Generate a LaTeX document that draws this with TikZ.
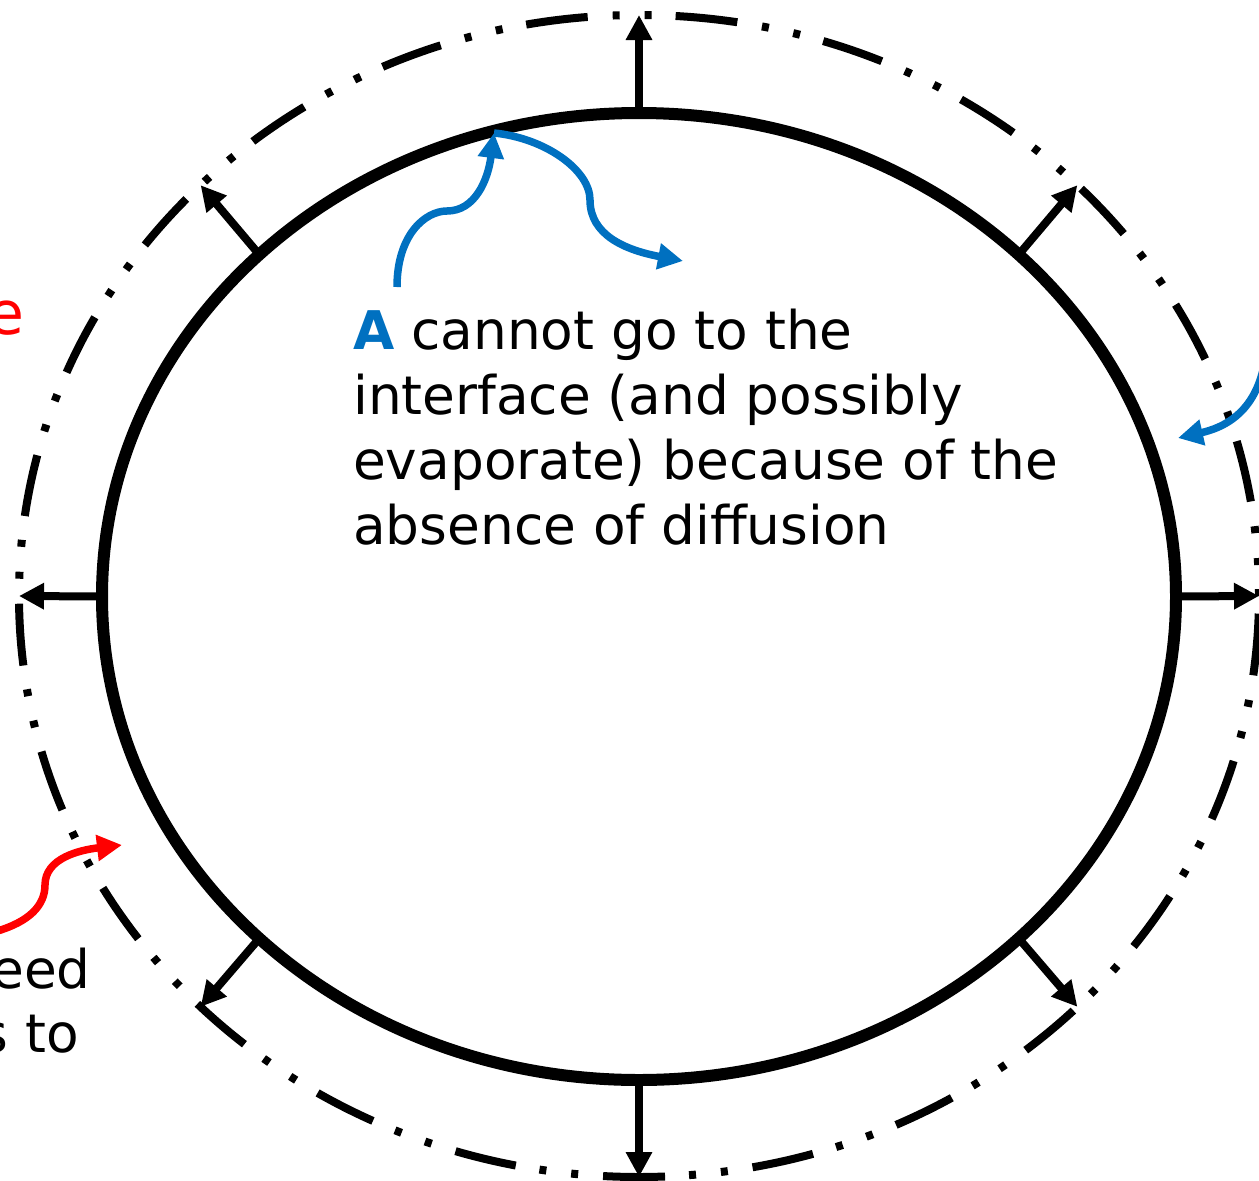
\documentclass[tikz,border=0pt]{standalone}
\usepackage{fontspec}
\setmainfont{DejaVu Sans}
\usetikzlibrary{shapes.geometric,arrows.meta}
\definecolor{dropblue}{HTML}{0070C0}
\definecolor{flagred}{HTML}{FF0000}
\begin{document}
\begin{tikzpicture}[x=1pt,y=-1pt]
  \tikzstyle{spoke}=[line width=8pt,-{Triangle[length=25pt,width=25pt]}]
  \tikzstyle{wander}=[line width=7.5pt,-{Triangle[length=25pt,width=25pt]}]
  \tikzstyle{words}=[inner sep=0pt,font=\fontsize{53.3}{65}\selectfont]
  \useasboundingbox (0,0) rectangle (1259,1181);
  \clip (0,0) rectangle (1259,1181);
  \node[ellipse,draw,line width=12pt,minimum width=1074pt,minimum height=967pt,
        inner sep=0pt,outer sep=0pt] (drop) at (639,596.5) {};
  \node[ellipse,draw,line width=8pt,minimum width=1240pt,minimum height=1162pt,
        inner sep=0pt,outer sep=0pt,
        dash pattern=on 62pt off 24pt on 7pt off 25pt on 7pt off 25pt,
        dash phase=55pt] (film) at (639,596) {};
  \foreach \a in {0,45,...,315}{
    \path (drop.center) ++(\a:537pt and 483.5pt) coordinate (in)
          (film.center) ++(\a:620pt and 581pt) coordinate (out);
    \draw[spoke] (in) -- (out);
  }
  % text
  \node[words,anchor=north west,align=left] (note) at (353,309)
    {\textcolor{dropblue}{\textbf{A}} cannot go to the\\interface (and possibly\\
     evaporate) because of the\\absence of diffusion};
  \node[words,flagred,anchor=base east,font=\fontsize{60}{72}\selectfont]
    (redword) at (25,334) {e};
  \node[words,anchor=base east] (cutone) at (91,988) {eed};
  \node[words,anchor=base east] (cuttwo) at (79,1052) {s to};
  % curly arrows
  \coordinate (from) at (397,287);
  \coordinate (hit) at (494,133);
  \coordinate (away) at (683,261);
  \coordinate (rimin) at (1263,370);
  \coordinate (rimtip) at (1178,438);
  \coordinate (redin) at (-6,932);
  \coordinate (redtip) at (122,845);
  \draw[wander,dropblue] (from) .. controls (397,235) and (425,211) .. (447,211)
    .. controls (475,211) and (488,180) .. (hit);
  \draw[wander,dropblue] (hit) .. controls (545,138) and (590,170) .. (590,200)
    .. controls (590,235) and (625,250) .. (away);
  \draw[wander,dropblue] (rimin) .. controls (1252,415) and (1222,428) .. (rimtip);
  \draw[wander,flagred] (redin) .. controls (30,922) and (45,905) .. (45,885)
    .. controls (45,858) and (80,850) .. (redtip);
\end{tikzpicture}
\end{document}
